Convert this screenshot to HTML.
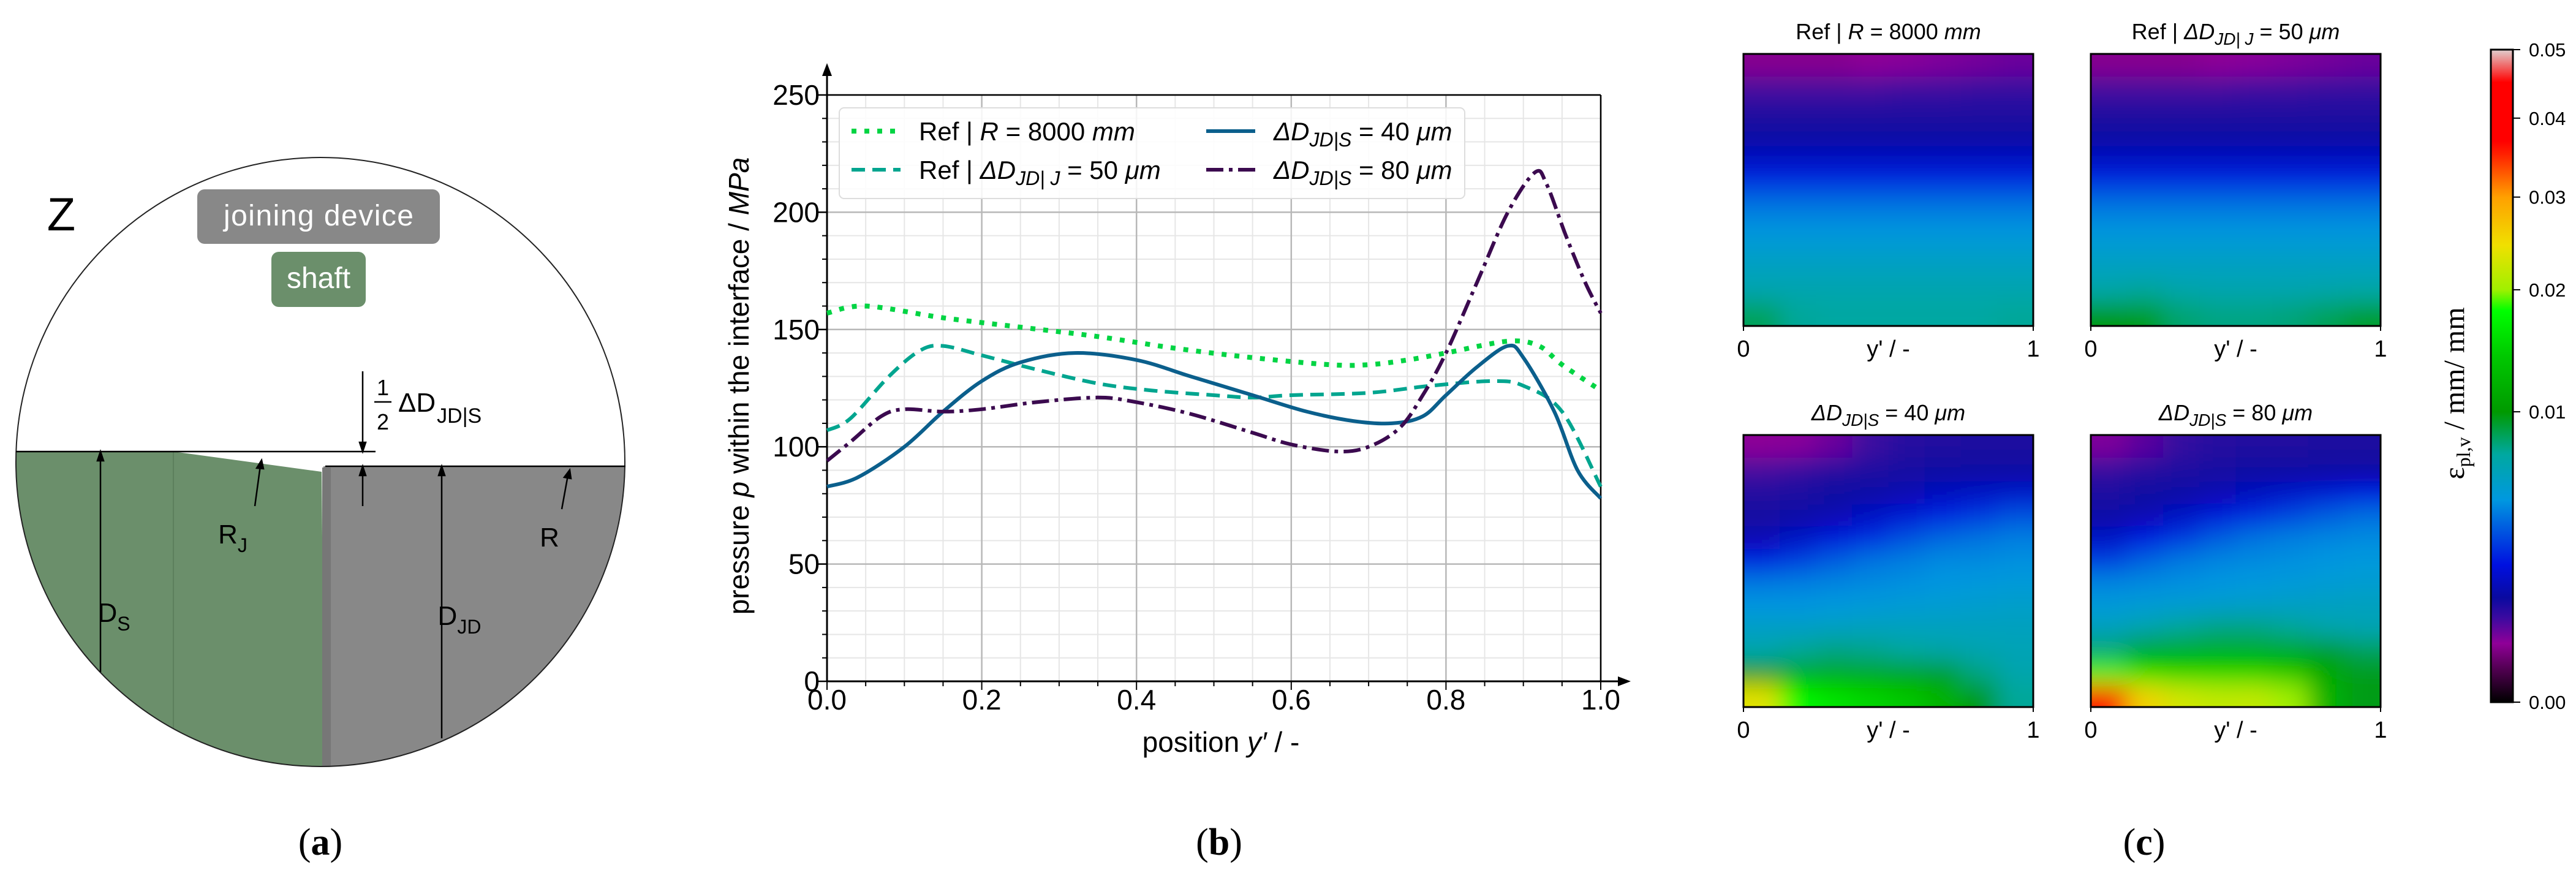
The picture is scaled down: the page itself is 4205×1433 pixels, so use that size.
<!DOCTYPE html>
<html><head><meta charset="utf-8">
<style>
html,body{margin:0;padding:0;background:#fff;}
body{width:4205px;height:1433px;overflow:hidden;}
svg{display:block;font-family:"Liberation Sans","DejaVu Sans",sans-serif;}
</style></head>
<body>
<svg id="fig" width="4205" height="1433" viewBox="0 0 4205 1433" xmlns="http://www.w3.org/2000/svg">
<defs>
  <clipPath id="circClip"><ellipse cx="523" cy="754" rx="497" ry="497"/></clipPath>
  <filter id="blurF" x="-10%" y="-10%" width="120%" height="120%"><feGaussianBlur stdDeviation="20"/></filter>
</defs>

<!-- ===== Panel (a) ===== -->
<g>
  <g clip-path="url(#circClip)">
    <polygon points="0,737 283,737 525,770 530,1300 0,1300" fill="#6b8f6b"/>
    <line x1="283" y1="737" x2="283" y2="1300" stroke="#5d7f5d" stroke-width="2"/>
    <rect x="528" y="761" width="520" height="560" fill="#888888"/>
    <rect x="526" y="763" width="14" height="560" fill="#777"/>
  </g>
  <ellipse cx="523" cy="754" rx="497" ry="497" fill="none" stroke="#222" stroke-width="2"/>
  <line x1="26" y1="737" x2="613" y2="737" stroke="#000" stroke-width="2.5"/>
  <line x1="531" y1="761" x2="1021" y2="761" stroke="#000" stroke-width="2.5"/>
  <g stroke="#000" stroke-width="2.5" fill="#000">
    <line x1="164" y1="1097" x2="164" y2="745"/><polygon points="164,737 159,752 169,752"/>
    <line x1="721" y1="1205" x2="721" y2="769"/><polygon points="721,761 716,776 726,776"/>
    <line x1="592" y1="606" x2="592" y2="729"/><polygon points="592,737 587,722 597,722"/>
    <line x1="592" y1="826" x2="592" y2="769"/><polygon points="592,761 587,776 597,776"/>
    <line x1="416" y1="826" x2="425" y2="760"/><polygon points="427,751 419,764 430,765"/>
    <line x1="917" y1="831" x2="927" y2="776"/><polygon points="930,767 921,779 932,781"/>
  </g>
  <text x="100" y="376" font-size="76" text-anchor="middle" fill="#000">Z</text>
  <rect x="322" y="309" width="396" height="89" rx="12" fill="#888"/>
  <text x="520" y="368" font-size="48" fill="#fff" text-anchor="middle" textLength="310">joining device</text>
  <rect x="443" y="411" width="154" height="90" rx="12" fill="#6b8f6b"/>
  <text x="520" y="470" font-size="48" fill="#fff" text-anchor="middle">shaft</text>
  <text x="625" y="645" font-size="36" text-anchor="middle">1</text>
  <line x1="611" y1="656" x2="639" y2="656" stroke="#000" stroke-width="2.5"/>
  <text x="625" y="701" font-size="36" text-anchor="middle">2</text>
  <text x="650" y="672" font-size="44">ΔD<tspan font-size="34" dy="18" dx="2">JD|S</tspan></text>
  <text x="380" y="887" font-size="44" text-anchor="middle">R<tspan font-size="32" dy="14">J</tspan></text>
  <text x="897" y="892" font-size="44" text-anchor="middle">R</text>
  <text x="186" y="1015" font-size="44" text-anchor="middle">D<tspan font-size="32" dy="14">S</tspan></text>
  <text x="750" y="1020" font-size="44" text-anchor="middle">D<tspan font-size="32" dy="14">JD</tspan></text>
  <text x="523" y="1395" font-family="Liberation Serif, serif" font-size="62" text-anchor="middle">(<tspan font-weight="bold">a</tspan>)</text>
</g>

<g id="chartB"></g>
<text x="1990" y="1395" font-family="Liberation Serif, serif" font-size="62" text-anchor="middle">(<tspan font-weight="bold">b</tspan>)</text>

<g id="panelC"></g>
<text x="3500" y="1395" font-family="Liberation Serif, serif" font-size="62" text-anchor="middle">(<tspan font-weight="bold">c</tspan>)</text>
</svg>

<script>
// ---------- Chart (b) data ----------
const xTicks = [0.0, 0.2, 0.4, 0.6, 0.8, 1.0];
const xTickLabels = ["0.0","0.2","0.4","0.6","0.8","1.0"];
const yTicks = [0, 50, 100, 150, 200, 250];
const yTickLabels = ["0","50","100","150","200","250"];
const refRX = [0,0.05,0.15,0.25,0.35,0.45,0.55,0.65,0.7,0.75,0.8,0.88,0.92,0.95,1.0];
const refRY = [157,160,155,151,147,142,138,135,135,137,140,145,143,135,124];
const refJX = [0,0.03,0.08,0.12,0.15,0.2,0.27,0.35,0.42,0.5,0.55,0.6,0.7,0.78,0.86,0.9,0.95,1.0];
const refJY = [107,112,130,141,143,139,133,127,124,122,121,122,123,126,128,126,115,83];
const d40X = [0,0.04,0.1,0.15,0.2,0.25,0.32,0.4,0.47,0.55,0.62,0.68,0.73,0.77,0.8,0.84,0.88,0.9,0.94,0.97,1.0];
const d40Y = [83,87,100,115,128,136,140,137,130,122,115,111,110,113,122,134,143,138,115,90,78];
const d80X = [0,0.03,0.07,0.1,0.15,0.2,0.27,0.35,0.4,0.47,0.55,0.6,0.66,0.7,0.74,0.77,0.8,0.84,0.88,0.915,0.93,0.955,0.98,1.0];
const d80Y = [94,102,113,116,115,116,119,121,119,114,106,101,98,100,108,122,140,170,200,217,212,190,170,157];

const NS = "http://www.w3.org/2000/svg";
function mk(tag, attrs, parent){ const e=document.createElementNS(NS,tag); for(const k in attrs) e.setAttribute(k,attrs[k]); if(parent) parent.appendChild(e); return e; }

const X0=1350, X1=2613, YT=155, YB=1112;
const sx = v => X0 + (X1-X0)*v;
const sy = v => YB - (YB-YT)*v/250;
const g = document.getElementById('chartB');

for(let i=0;i<=20;i++){ const v=i*0.05; if(i%4===0) continue;
  const l=mk('line',{x1:sx(v),x2:sx(v),y1:YT,y2:YB,stroke:'#e6e6e6','stroke-width':2},g);
    }
for(let v=10;v<250;v+=10){ if(v%50===0) continue;
  const l=mk('line',{x1:X0,x2:X1,y1:sy(v),y2:sy(v),stroke:'#e6e6e6','stroke-width':2},g);
    }
xTicks.forEach((v,i)=>{
  const l=mk('line',{x1:sx(v),x2:sx(v),y1:YT,y2:YB,stroke:'#b8b8b8','stroke-width':2.5},g);
   
  const t=mk('text',{x:sx(v),y:1158,'font-size':46,'text-anchor':'middle'},g); t.textContent=xTickLabels[i];
   
});
yTicks.forEach((v,i)=>{
  const l=mk('line',{x1:X0,x2:X1,y1:sy(v),y2:sy(v),stroke:'#b8b8b8','stroke-width':2.5},g);
   
  const t=mk('text',{x:X0-12,y:sy(v)+16,'font-size':46,'text-anchor':'end'},g); t.textContent=yTickLabels[i];
   
  mk('line',{x1:X0-14,x2:X0,y1:sy(v),y2:sy(v),stroke:'#000','stroke-width':2.5},g);
});
for(let v=10;v<250;v+=10){ if(v%50) mk('line',{x1:X0-8,x2:X0,y1:sy(v),y2:sy(v),stroke:'#000','stroke-width':2},g); }
for(let i=0;i<=20;i++){ mk('line',{x1:sx(i*0.05),x2:sx(i*0.05),y1:YB,y2:YB+(i%4?8:14),stroke:'#000','stroke-width':2},g); }
mk('line',{x1:X0,x2:X1,y1:YT,y2:YT,stroke:'#000','stroke-width':2.5},g);
mk('line',{x1:X1,x2:X1,y1:YT,y2:YB,stroke:'#000','stroke-width':2.5},g);
const ya=mk('line',{x1:X0,x2:X0,y1:YB,y2:118,stroke:'#000','stroke-width':3},g);
 
mk('polygon',{points:`${X0},103 ${X0-8},124 ${X0+8},124`,fill:'#000'},g);
const xa=mk('line',{x1:X0,x2:2645,y1:YB,y2:YB,stroke:'#000','stroke-width':3},g);
 
mk('polygon',{points:`2662,${YB} 2641,${YB-8} 2641,${YB+8}`,fill:'#000'},g);

const xt=mk('text',{x:1993,y:1227,'font-size':46,'text-anchor':'middle'},g);
xt.innerHTML='position <tspan font-style="italic">y′</tspan> / -';
 
const yt=mk('text',{x:0,y:0,'font-size':46,'text-anchor':'middle',transform:'translate(1222,630) rotate(-90)'},g);
yt.innerHTML='pressure <tspan font-style="italic">p</tspan> within the interface  / <tspan font-style="italic">MPa</tspan>';
 

function smoothPath(xs, ys){
  const P=xs.map((x,i)=>[sx(x),sy(ys[i])]);
  let d=`M${P[0][0]},${P[0][1]}`;
  for(let i=0;i<P.length-1;i++){
    const p0=P[Math.max(0,i-1)],p1=P[i],p2=P[i+1],p3=P[Math.min(P.length-1,i+2)];
    const c1=[p1[0]+(p2[0]-p0[0])/6,p1[1]+(p2[1]-p0[1])/6];
    const c2=[p2[0]-(p3[0]-p1[0])/6,p2[1]-(p3[1]-p1[1])/6];
    d+=` C${c1[0]},${c1[1]} ${c2[0]},${c2[1]} ${p2[0]},${p2[1]}`;
  }
  return d;
}
const series=[
  {x:refJX,y:refJY,c:'#00a58f',dash:'22,12',w:6,name:'series-ref-dj-50'},
  {x:refRX,y:refRY,c:'#00d443',dash:'8,13',w:8,name:'series-ref-r-8000'},
  {x:d40X,y:d40Y,c:'#0b5f8c',dash:'',w:6,name:'series-dd-40'},
  {x:d80X,y:d80Y,c:'#3b0a4f',dash:'28,9,6,9',w:6,name:'series-dd-80'}
];
series.forEach(s=>{
  const p=mk('path',{d:smoothPath(s.x,s.y),fill:'none',stroke:s.c,'stroke-width':s.w,'stroke-dasharray':s.dash},g);
   
});

const lg=mk('g',{},g);
 
mk('rect',{x:1370,y:176,width:1021,height:148,rx:8,fill:'rgba(255,255,255,0.85)',stroke:'#dddddd','stroke-width':2},lg);
const legItems=[
  {x:1390,y:214,c:'#00d443',dash:'8,13',w:8,html:'Ref | <tspan font-style="italic">R</tspan> = 8000 <tspan font-style="italic">mm</tspan>'},
  {x:1390,y:277,c:'#00a58f',dash:'22,12',w:6,html:'Ref | <tspan font-style="italic">ΔD<tspan font-size="32" dy="10">JD| J</tspan><tspan dy="-10"> </tspan></tspan>= 50 <tspan font-style="italic">μm</tspan>'},
  {x:1969,y:214,c:'#0b5f8c',dash:'',w:6,html:'<tspan font-style="italic">ΔD<tspan font-size="32" dy="10">JD|S</tspan><tspan dy="-10"> </tspan></tspan>= 40 <tspan font-style="italic">μm</tspan>'},
  {x:1969,y:277,c:'#3b0a4f',dash:'28,9,6,9',w:6,html:'<tspan font-style="italic">ΔD<tspan font-size="32" dy="10">JD|S</tspan><tspan dy="-10"> </tspan></tspan>= 80 <tspan font-style="italic">μm</tspan>'}
];
legItems.forEach(it=>{
  const e=mk('g',{},lg);
   
  mk('line',{x1:it.x,x2:it.x+80,y1:it.y,y2:it.y,stroke:it.c,'stroke-width':it.w,'stroke-dasharray':it.dash},e);
  const t=mk('text',{x:it.x+110,y:it.y+15,'font-size':42},e); t.innerHTML=it.html;
});

// ---------- Panel (c) heatmap data ----------
const cbTickValues=[0.00,0.01,0.02,0.03,0.04,0.05];
const cbTickLabels=["0.00","0.01","0.02","0.03","0.04","0.05"];
const panelTitles=['Ref | <tspan font-style="italic">R</tspan> = 8000 <tspan font-style="italic">mm</tspan>',
 'Ref | <tspan font-style="italic">ΔD<tspan font-size="28" dy="9">JD| J</tspan><tspan dy="-9"> </tspan></tspan>= 50 <tspan font-style="italic">μm</tspan>',
 '<tspan font-style="italic">ΔD<tspan font-size="28" dy="9">JD|S</tspan><tspan dy="-9"> </tspan></tspan>= 40 <tspan font-style="italic">μm</tspan>',
 '<tspan font-style="italic">ΔD<tspan font-size="28" dy="9">JD|S</tspan><tspan dy="-9"> </tspan></tspan>= 80 <tspan font-style="italic">μm</tspan>'];
const strainRef = [
 [0.0019,0.0019,0.0019,0.0020,0.0021,0.0022,0.0023,0.0024],
 [0.0028,0.0028,0.0028,0.0028,0.0029,0.0029,0.0030,0.0030],
 [0.0033,0.0033,0.0033,0.0033,0.0033,0.0033,0.0033,0.0033],
 [0.0036,0.0036,0.0036,0.0036,0.0036,0.0036,0.0036,0.0036],
 [0.0041,0.0041,0.0041,0.0041,0.0041,0.0041,0.0041,0.0041],
 [0.0050,0.0050,0.0050,0.0050,0.0050,0.0050,0.0050,0.0050],
 [0.0062,0.0062,0.0062,0.0062,0.0062,0.0062,0.0062,0.0062],
 [0.0068,0.0068,0.0068,0.0068,0.0068,0.0068,0.0068,0.0068],
 [0.0073,0.0073,0.0073,0.0073,0.0073,0.0073,0.0073,0.0073],
 [0.0078,0.0078,0.0078,0.0078,0.0078,0.0078,0.0078,0.0078],
 [0.0082,0.0082,0.0082,0.0082,0.0082,0.0082,0.0082,0.0082],
 [0.0092,0.0086,0.0085,0.0085,0.0085,0.0085,0.0085,0.0086]];
const strainRefJ = [
 [0.0019,0.0019,0.0019,0.0020,0.0021,0.0022,0.0023,0.0024],
 [0.0028,0.0028,0.0028,0.0028,0.0029,0.0029,0.0030,0.0030],
 [0.0033,0.0033,0.0033,0.0033,0.0033,0.0033,0.0033,0.0033],
 [0.0036,0.0036,0.0036,0.0036,0.0036,0.0036,0.0036,0.0036],
 [0.0041,0.0041,0.0041,0.0041,0.0041,0.0041,0.0041,0.0041],
 [0.0050,0.0050,0.0050,0.0050,0.0050,0.0050,0.0050,0.0050],
 [0.0062,0.0062,0.0062,0.0062,0.0062,0.0062,0.0062,0.0062],
 [0.0068,0.0068,0.0068,0.0068,0.0068,0.0068,0.0068,0.0068],
 [0.0073,0.0073,0.0073,0.0073,0.0073,0.0073,0.0073,0.0073],
 [0.0078,0.0078,0.0078,0.0078,0.0078,0.0078,0.0078,0.0078],
 [0.0084,0.0086,0.0083,0.0082,0.0082,0.0082,0.0083,0.0084],
 [0.0100,0.0098,0.0090,0.0088,0.0088,0.0089,0.0092,0.0096]];
const strainD40 = [
 [0.0020,0.0021,0.0024,0.0029,0.0032,0.0033,0.0034,0.0034],
 [0.0028,0.0030,0.0032,0.0034,0.0035,0.0036,0.0036,0.0036],
 [0.0033,0.0034,0.0036,0.0037,0.0039,0.0041,0.0042,0.0043],
 [0.0035,0.0037,0.0039,0.0042,0.0045,0.0049,0.0053,0.0057],
 [0.0039,0.0042,0.0046,0.0051,0.0057,0.0061,0.0063,0.0065],
 [0.0048,0.0054,0.0059,0.0063,0.0065,0.0067,0.0067,0.0068],
 [0.0064,0.0065,0.0066,0.0067,0.0068,0.0069,0.0070,0.0071],
 [0.0069,0.0069,0.0070,0.0071,0.0072,0.0073,0.0074,0.0075],
 [0.0076,0.0076,0.0077,0.0078,0.0078,0.0078,0.0078,0.0078],
 [0.0082,0.0086,0.0088,0.0087,0.0085,0.0083,0.0081,0.0080],
 [0.0102,0.0112,0.0112,0.0110,0.0106,0.0098,0.0088,0.0082],
 [0.0240,0.0180,0.0165,0.0155,0.0145,0.0125,0.0100,0.0086]];
const strainD80 = [
 [0.0022,0.0026,0.0030,0.0032,0.0033,0.0033,0.0034,0.0034],
 [0.0030,0.0032,0.0034,0.0035,0.0036,0.0036,0.0036,0.0036],
 [0.0034,0.0036,0.0037,0.0039,0.0041,0.0043,0.0045,0.0047],
 [0.0037,0.0039,0.0042,0.0046,0.0051,0.0055,0.0059,0.0062],
 [0.0042,0.0047,0.0053,0.0059,0.0063,0.0065,0.0066,0.0067],
 [0.0054,0.0060,0.0064,0.0066,0.0067,0.0068,0.0069,0.0070],
 [0.0066,0.0067,0.0068,0.0069,0.0070,0.0071,0.0072,0.0073],
 [0.0071,0.0072,0.0073,0.0074,0.0075,0.0076,0.0077,0.0078],
 [0.0078,0.0082,0.0086,0.0088,0.0088,0.0086,0.0082,0.0080],
 [0.0090,0.0108,0.0114,0.0116,0.0116,0.0112,0.0098,0.0092],
 [0.0190,0.0165,0.0158,0.0158,0.0156,0.0145,0.0115,0.0098],
 [0.0420,0.0260,0.0230,0.0220,0.0220,0.0200,0.0125,0.0098]];

const vKnots=[0,0.00225,0.0034,0.0067,0.0083,0.01,0.02,0.03,0.04,0.05];
const fKnots=[0,0.10,0.15,0.30,0.37,0.445,0.632,0.774,0.895,1.0];
const cStops=[[0,'#000000'],[0.05,'#500050'],[0.09,'#900098'],[0.13,'#3a0aa0'],[0.16,'#0a0aa0'],[0.21,'#0010e0'],[0.27,'#0060e0'],[0.31,'#0098e0'],[0.38,'#00a8a0'],[0.445,'#009a00'],[0.53,'#00c800'],[0.6,'#00ff00'],[0.632,'#a0f000'],[0.7,'#f0e000'],[0.774,'#ffa000'],[0.84,'#ff2000'],[0.86,'#ff0000'],[0.95,'#ff0000'],[1,'#e0d0d0']];
function valToFrac(v){ v=Math.max(0,Math.min(0.05,v)); for(let i=0;i<vKnots.length-1;i++){ if(v<=vKnots[i+1]) return fKnots[i]+(fKnots[i+1]-fKnots[i])*(v-vKnots[i])/(vKnots[i+1]-vKnots[i]); } return 1; }
function hex(c){return [parseInt(c.slice(1,3),16),parseInt(c.slice(3,5),16),parseInt(c.slice(5,7),16)];}
function fracToColor(f){ for(let i=0;i<cStops.length-1;i++){ const [a,ca]=cStops[i],[b,cb]=cStops[i+1]; if(f<=b){ const t=(f-a)/(b-a),A=hex(ca),B=hex(cb); return `rgb(${A.map((x,k)=>Math.round(x+(B[k]-x)*t)).join(',')})`; } } return cStops[cStops.length-1][1]; }

const pc=document.getElementById('panelC');
const panels=[{data:strainRef,x:2846,y:88},{data:strainRefJ,x:3413,y:88},{data:strainD40,x:2846,y:710},{data:strainD80,x:3413,y:710}];
const PW=473, PH=444;
panels.forEach((p,pi)=>{
  const grp=mk('g',{},pc);
   
  const cid='hc'+pi;
  const cp=mk('clipPath',{id:cid},grp); mk('rect',{x:p.x,y:p.y,width:PW,height:PH},cp);
  const inner=mk('g',{'clip-path':`url(#${cid})`},grp);
  const bl=mk('g',{filter:'url(#blurF)'},inner);
  const rows=p.data.length, cols=p.data[0].length, cw=PW/cols, ch=PH/rows, pad=60;
  p.data.forEach((row,r)=>row.forEach((v,c)=>{
    let x=p.x+c*cw, y=p.y+r*ch, w=cw+1, h=ch+1;
    if(c===0){x-=pad;w+=pad;} if(c===cols-1){w+=pad;}
    if(r===0){y-=pad;h+=pad;} if(r===rows-1){h+=pad;}
    const cell=mk('rect',{x:x,y:y,width:w,height:h,fill:fracToColor(valToFrac(v))},bl);
    
    
  }));
  mk('rect',{x:p.x,y:p.y,width:PW,height:PH,fill:'none',stroke:'#000','stroke-width':3},grp);
  const t=mk('text',{x:p.x+PW/2,y:p.y-24,'font-size':36,'text-anchor':'middle'},grp); t.innerHTML=panelTitles[pi];
   
  [[0,'0'],[1,'1']].forEach(([v,l])=>{
    mk('line',{x1:p.x+v*PW,x2:p.x+v*PW,y1:p.y+PH,y2:p.y+PH+8,stroke:'#000','stroke-width':2},grp);
    const tl=mk('text',{x:p.x+v*PW,y:p.y+PH+50,'font-size':38,'text-anchor':'middle'},grp); tl.textContent=l;
     
  });
  const xl=mk('text',{x:p.x+PW/2,y:p.y+PH+50,'font-size':38,'text-anchor':'middle'},grp); xl.textContent="y' / -";
   
});

const CBX=4066, CBW=36, CBT=81, CBB=1146;
const defs=document.querySelector('defs');
const lgr=mk('linearGradient',{id:'cbGrad',x1:0,y1:1,x2:0,y2:0},defs);
cStops.forEach(([f,c])=>mk('stop',{offset:f,'stop-color':c},lgr));
const cb=mk('rect',{x:CBX,y:CBT,width:CBW,height:CBB-CBT,fill:'url(#cbGrad)',stroke:'#000','stroke-width':3},pc);
 
cbTickValues.forEach((v,i)=>{
  const y=CBB-(CBB-CBT)*valToFrac(v);
  mk('line',{x1:CBX+CBW,x2:CBX+CBW+12,y1:y,y2:y,stroke:'#000','stroke-width':2},pc);
  const t=mk('text',{x:CBX+CBW+26,y:y+11,'font-size':31},pc); t.textContent=cbTickLabels[i];
   
});
const cbl=mk('text',{x:0,y:0,'font-size':48,'font-family':'Liberation Serif, serif','text-anchor':'middle',transform:'translate(4022,642) rotate(-90)'},pc);
cbl.innerHTML='ε<tspan font-size="32" dy="10">pl,v</tspan><tspan dy="-10"> / mm/ mm</tspan>';
 
</script>
</body></html>
